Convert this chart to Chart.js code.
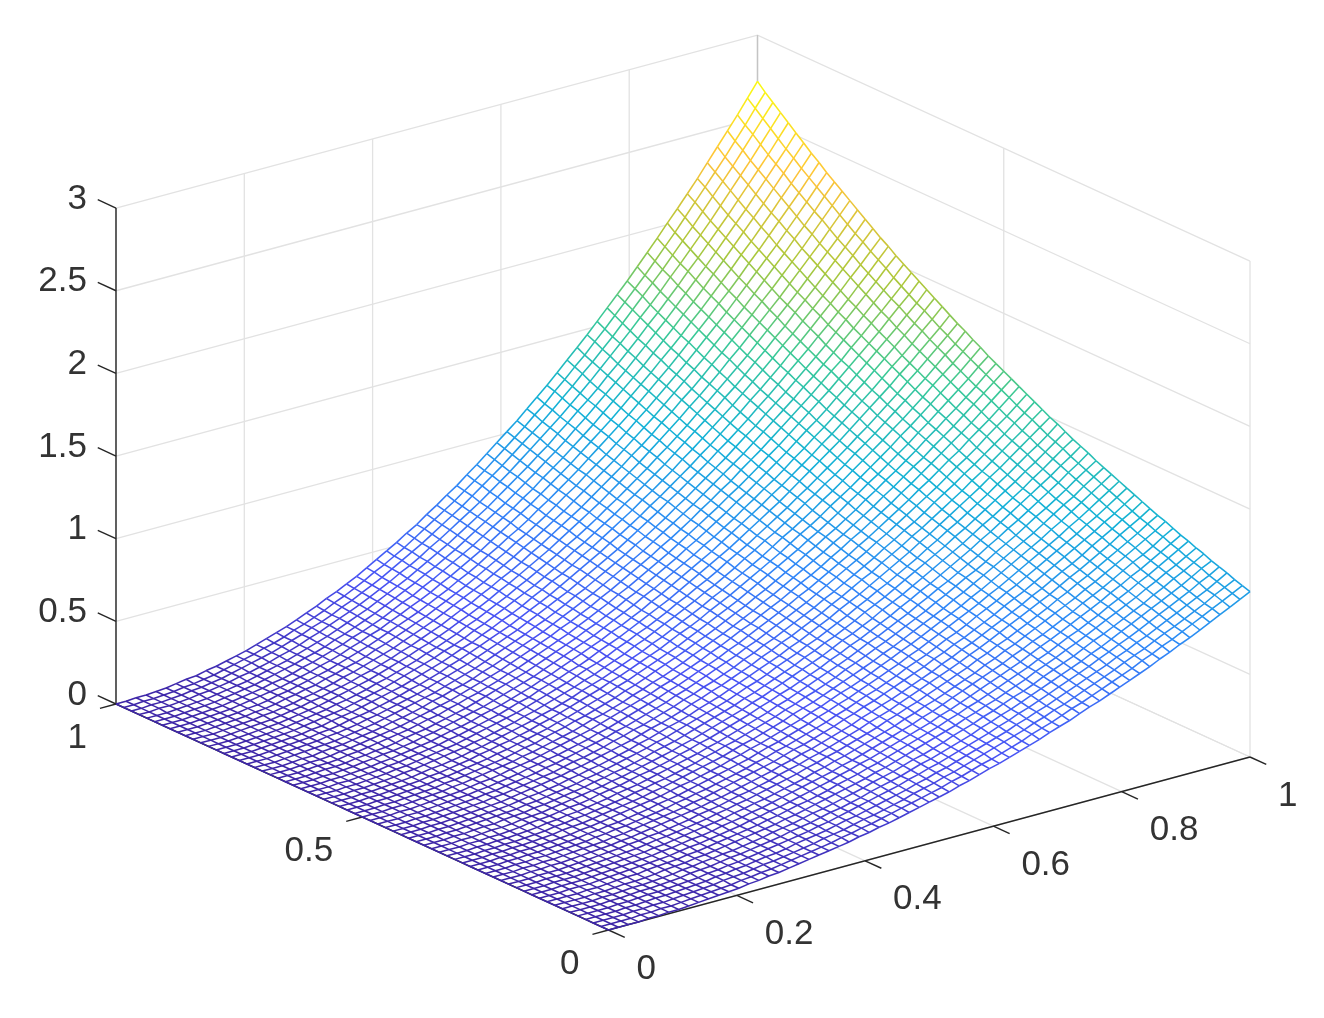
<!DOCTYPE html>
<html>
<head>
<meta charset="utf-8">
<title>Surface</title>
<script src="https://cdn.jsdelivr.net/npm/chart.js@4"></script>
<style>
html, body { margin: 0; padding: 0; background: #fff; }
canvas { display: block; filter: blur(0.45px); }
</style>
</head>
<body>
<canvas id="myChart" width="1324" height="1018"></canvas>
<script>
// ticks shown on each axis
const xTicks = [0, 0.2, 0.4, 0.6, 0.8, 1]
const yTicks = [0, 0.5, 1]
const zTicks = [0, 0.5, 1, 1.5, 2, 2.5, 3]

// surface height, in units of 0.005. row = x, column = y
const heightRows = [
[0,0,0,0,0,0,0,0,0,0,0,0,0,
0,0,0,0,0,0,0,0,0,0,0,0,0,
0,0,0,0,0,0,0,0,0,0,0,0,0,
0,0,0,0,0,0,0,0,0,0,0,0,0,
0,0,0,0,0,0,0,0,0,0,0,0,0],
[0,0,0,0,0,0,0,0,0,0,0,0,0,
0,0,0,0,0,0,0,0,0,0,0,0,0,
0,0,0,0,0,0,0,0,0,0,0,0,0,
0,0,0,0,0,0,0,0,0,0,0,0,0,
0,0,0,0,0,0,0,0,0,0,0,0,0],
[0,0,0,0,0,0,0,0,0,0,0,0,0,
0,0,0,0,0,0,0,0,0,0,0,0,0,
0,0,0,0,0,0,0,0,0,0,0,0,0,
0,0,0,0,0,0,0,0,0,0,0,0,0,
0,0,0,0,0,0,0,0,0,1,1,1,1],
[0,0,0,0,0,0,0,0,0,1,1,1,1,
1,1,1,1,1,1,1,1,1,1,1,1,1,
1,1,1,1,1,1,1,1,1,1,1,1,1,
1,1,1,1,1,1,1,1,1,1,1,1,1,
1,1,1,1,1,1,1,1,1,1,1,1,1],
[1,1,1,1,1,1,1,1,1,1,1,1,1,
1,1,1,1,1,1,1,1,1,1,1,1,1,
1,1,1,1,1,1,1,1,1,1,1,1,1,
1,1,1,2,2,2,2,2,2,2,2,2,2,
2,2,2,2,2,2,2,2,2,2,2,2,2],
[1,1,1,1,1,1,1,1,1,1,1,1,1,
1,2,2,2,2,2,2,2,2,2,2,2,2,
2,2,2,2,2,2,2,2,2,2,2,2,2,
2,2,2,2,2,2,2,3,3,3,3,3,3,
3,3,3,3,3,3,3,3,3,3,3,3,3],
[2,2,2,2,2,2,2,2,2,2,2,2,2,
2,2,2,2,2,2,2,2,2,2,3,3,3,
3,3,3,3,3,3,3,3,3,3,3,3,3,
3,3,3,3,3,3,4,4,4,4,4,4,4,
4,4,4,4,4,4,4,4,4,5,5,5,5],
[2,2,2,3,3,3,3,3,3,3,3,3,3,
3,3,3,3,3,3,3,3,3,3,3,3,4,
4,4,4,4,4,4,4,4,4,4,4,4,4,
4,4,5,5,5,5,5,5,5,5,5,5,5,
5,5,6,6,6,6,6,6,6,6,6,6,7],
[3,3,3,3,3,3,3,3,4,4,4,4,4,
4,4,4,4,4,4,4,4,4,4,4,5,5,
5,5,5,5,5,5,5,5,5,5,5,6,6,
6,6,6,6,6,6,6,6,7,7,7,7,7,
7,7,7,7,7,8,8,8,8,8,8,8,8],
[4,4,4,4,4,4,4,4,4,5,5,5,5,
5,5,5,5,5,5,5,5,5,6,6,6,6,
6,6,6,6,6,6,7,7,7,7,7,7,7,
7,7,8,8,8,8,8,8,8,8,8,9,9,
9,9,9,9,9,10,10,10,10,10,10,10,11],
[5,5,5,5,5,5,5,5,6,6,6,6,6,
6,6,6,6,6,6,7,7,7,7,7,7,7,
7,7,8,8,8,8,8,8,8,8,9,9,9,
9,9,9,9,10,10,10,10,10,10,11,11,11,
11,11,11,12,12,12,12,12,12,13,13,13,13],
[6,6,6,6,6,6,6,7,7,7,7,7,7,
7,7,7,8,8,8,8,8,8,8,8,9,9,
9,9,9,9,9,10,10,10,10,10,10,11,11,
11,11,11,11,12,12,12,12,12,13,13,13,13,
13,14,14,14,14,14,15,15,15,15,16,16,16],
[7,7,7,7,7,8,8,8,8,8,8,8,8,
9,9,9,9,9,9,9,10,10,10,10,10,10,
11,11,11,11,11,11,12,12,12,12,12,13,13,
13,13,13,14,14,14,14,14,15,15,15,15,16,
16,16,16,17,17,17,17,18,18,18,19,19,19],
[8,8,9,9,9,9,9,9,9,9,10,10,10,
10,10,10,11,11,11,11,11,11,12,12,12,12,
12,13,13,13,13,13,14,14,14,14,14,15,15,
15,15,16,16,16,16,17,17,17,17,18,18,18,
19,19,19,19,20,20,20,21,21,21,22,22,22],
[10,10,10,10,10,10,11,11,11,11,11,11,12,
12,12,12,12,12,13,13,13,13,13,14,14,14,
14,15,15,15,15,16,16,16,16,17,17,17,17,
18,18,18,18,19,19,19,20,20,20,21,21,21,
22,22,22,23,23,23,24,24,24,25,25,26,26],
[11,11,11,12,12,12,12,12,12,13,13,13,13,
13,14,14,14,14,15,15,15,15,15,16,16,16,
16,17,17,17,18,18,18,18,19,19,19,20,20,
20,21,21,21,22,22,22,23,23,23,24,24,24,
25,25,26,26,26,27,27,28,28,28,29,29,30],
[13,13,13,13,13,14,14,14,14,14,15,15,15,
15,16,16,16,16,17,17,17,17,18,18,18,18,
19,19,19,20,20,20,21,21,21,22,22,22,23,
23,23,24,24,24,25,25,26,26,26,27,27,28,
28,29,29,30,30,30,31,31,32,32,33,33,34],
[14,14,15,15,15,15,15,16,16,16,16,17,17,
17,18,18,18,18,19,19,19,20,20,20,21,21,
21,22,22,22,23,23,23,24,24,24,25,25,26,
26,26,27,27,28,28,29,29,29,30,30,31,31,
32,32,33,33,34,34,35,35,36,37,37,38,38],
[16,16,16,17,17,17,17,18,18,18,18,19,19,
19,20,20,20,21,21,21,22,22,22,23,23,23,
24,24,25,25,25,26,26,26,27,27,28,28,29,
29,30,30,30,31,31,32,32,33,33,34,35,35,
36,36,37,37,38,39,39,40,40,41,42,42,43],
[18,18,18,18,19,19,19,20,20,20,21,21,21,
22,22,22,23,23,23,24,24,24,25,25,26,26,
26,27,27,28,28,29,29,30,30,30,31,31,32,
32,33,33,34,35,35,36,36,37,37,38,39,39,
40,40,41,42,42,43,44,44,45,46,46,47,48],
[20,20,20,20,21,21,21,22,22,22,23,23,24,
24,24,25,25,25,26,26,27,27,28,28,28,29,
29,30,30,31,31,32,32,33,33,34,34,35,35,
36,36,37,38,38,39,39,40,41,41,42,43,43,
44,45,45,46,47,48,48,49,50,51,51,52,53],
[22,22,22,23,23,23,24,24,24,25,25,26,26,
26,27,27,28,28,29,29,29,30,30,31,31,32,
32,33,33,34,34,35,35,36,37,37,38,38,39,
40,40,41,42,42,43,43,44,45,46,46,47,48,
49,49,50,51,52,52,53,54,55,56,57,58,59],
[24,24,24,25,25,26,26,26,27,27,28,28,29,
29,29,30,30,31,31,32,32,33,33,34,34,35,
35,36,37,37,38,38,39,40,40,41,41,42,43,
43,44,45,46,46,47,48,48,49,50,51,52,52,
53,54,55,56,57,58,58,59,60,61,62,63,64],
[26,26,27,27,27,28,28,29,29,30,30,31,31,
32,32,33,33,34,34,35,35,36,36,37,38,38,
39,39,40,41,41,42,43,43,44,45,45,46,47,
48,48,49,50,51,51,52,53,54,55,56,56,57,
58,59,60,61,62,63,64,65,66,67,68,69,70],
[28,29,29,29,30,30,31,31,32,32,33,33,34,
34,35,36,36,37,37,38,38,39,40,40,41,42,
42,43,44,44,45,46,46,47,48,49,49,50,51,
52,53,53,54,55,56,57,58,59,60,60,61,62,
63,64,65,66,67,69,70,71,72,73,74,75,76],
[31,31,31,32,32,33,34,34,35,35,36,36,37,
37,38,39,39,40,40,41,42,42,43,44,44,45,
46,47,47,48,49,50,50,51,52,53,54,54,55,
56,57,58,59,60,61,62,63,64,65,66,67,68,
69,70,71,72,73,74,75,77,78,79,80,82,83],
[33,34,34,35,35,36,36,37,37,38,39,39,40,
40,41,42,42,43,44,44,45,46,47,47,48,49,
50,50,51,52,53,54,54,55,56,57,58,59,60,
61,62,63,64,65,66,67,68,69,70,71,72,73,
74,76,77,78,79,80,82,83,84,86,87,88,90],
[36,36,37,37,38,38,39,40,40,41,42,42,43,
44,44,45,46,46,47,48,49,49,50,51,52,53,
53,54,55,56,57,58,59,60,61,62,62,63,65,
65,67,68,69,70,71,72,73,74,75,77,78,79,
80,81,83,84,85,87,88,90,91,92,94,95,97],
[38,39,39,40,41,41,42,43,43,44,45,45,46,
47,48,48,49,50,51,52,52,53,54,55,56,57,
57,58,59,60,61,62,63,64,65,66,67,68,69,
70,72,73,74,75,76,77,79,80,81,82,84,85,
86,88,89,90,92,93,95,96,98,99,101,102,104],
[41,42,42,43,44,44,45,46,47,47,48,49,50,
50,51,52,53,54,54,55,56,57,58,59,60,61,
62,63,64,65,66,67,68,69,70,71,72,73,74,
76,77,78,79,80,82,83,84,86,87,88,90,91,
93,94,95,97,98,100,102,103,105,107,108,110,112],
[44,45,45,46,47,48,48,49,50,51,51,52,53,
54,55,56,56,57,58,59,60,61,62,63,64,65,
66,67,68,69,70,71,72,74,75,76,77,78,80,
81,82,83,85,86,87,89,90,92,93,95,96,98,
99,101,102,104,105,107,109,110,112,114,116,118,119],
[47,48,48,49,50,51,52,52,53,54,55,56,57,
57,58,59,60,61,62,63,64,65,66,67,68,69,
70,72,73,74,75,76,77,79,80,81,82,84,85,
86,88,89,90,92,93,95,96,98,99,101,102,104,
106,107,109,111,113,114,116,118,120,122,124,126,128],
[50,51,52,52,53,54,55,56,57,58,58,59,60,
61,62,63,64,65,66,67,68,69,71,72,73,74,
75,76,77,79,80,81,82,84,85,86,88,89,91,
92,93,95,96,98,99,101,103,104,106,108,109,111,
113,114,116,118,120,122,124,126,128,130,132,134,136],
[53,54,55,56,57,57,58,59,60,61,62,63,64,
65,66,67,68,69,70,72,73,74,75,76,77,79,
80,81,82,84,85,86,88,89,90,92,93,95,96,
98,99,101,102,104,106,107,109,111,113,114,116,118,
120,122,124,126,128,130,132,134,136,138,140,142,145],
[56,57,58,59,60,61,62,63,64,65,66,67,68,
69,70,71,72,74,75,76,77,78,80,81,82,83,
85,86,87,89,90,92,93,95,96,98,99,101,102,
104,105,107,109,111,112,114,116,118,120,121,123,125,
127,129,131,133,135,138,140,142,144,146,149,151,153],
[60,61,62,63,64,65,66,67,68,69,70,71,72,
73,74,76,77,78,79,80,82,83,84,86,87,88,
90,91,93,94,96,97,99,100,102,103,105,107,108,
110,112,114,115,117,119,121,123,125,127,129,131,133,
135,137,139,141,143,146,148,150,153,155,158,160,163],
[63,64,65,66,67,68,69,71,72,73,74,75,76,
78,79,80,81,83,84,85,86,88,89,91,92,94,
95,97,98,100,101,103,104,106,108,109,111,113,115,
116,118,120,122,124,126,128,130,132,134,136,138,140,
143,145,147,149,152,154,157,159,162,164,167,169,172],
[67,68,69,70,71,72,73,75,76,77,78,79,81,
82,83,85,86,87,89,90,91,93,94,96,97,99,
100,102,104,105,107,109,110,112,114,116,117,119,121,
123,125,127,129,131,133,135,137,139,142,144,146,148,
151,153,155,158,160,163,165,168,171,173,176,179,182],
[71,72,73,74,75,76,77,79,80,81,82,84,85,
86,88,89,91,92,93,95,96,98,99,101,103,104,
106,108,109,111,113,114,116,118,120,122,124,126,128,
130,132,134,136,138,140,142,145,147,149,152,154,156,
159,161,164,167,169,172,175,177,180,183,186,189,192],
[74,75,77,78,79,80,82,83,84,85,87,88,90,
91,92,94,95,97,98,100,102,103,105,106,108,110,
111,113,115,117,119,121,122,124,126,128,130,132,134,
137,139,141,143,145,148,150,152,155,157,160,162,165,
167,170,173,175,178,181,184,187,190,193,196,199,202],
[78,79,81,82,83,84,86,87,89,90,91,93,94,
96,97,99,100,102,103,105,107,108,110,112,114,115,
117,119,121,123,125,127,129,131,133,135,137,139,141,
144,146,148,151,153,155,158,160,163,165,168,171,173,
176,179,182,185,187,190,193,196,199,203,206,209,212],
[82,83,85,86,87,89,90,92,93,94,96,97,99,
101,102,104,105,107,109,110,112,114,116,118,119,121,
123,125,127,129,131,133,135,137,140,142,144,146,149,
151,153,156,158,161,163,166,168,171,174,177,179,182,
185,188,191,194,197,200,203,206,210,213,216,220,223],
[86,87,89,90,92,93,95,96,98,99,101,102,104,
106,107,109,111,112,114,116,118,120,121,123,125,127,
129,131,133,135,138,140,142,144,147,149,151,154,156,
158,161,163,166,169,171,174,177,180,182,185,188,191,
194,197,200,203,207,210,213,217,220,223,227,230,234],
[90,92,93,95,96,98,99,101,102,104,106,107,109,
111,112,114,116,118,120,121,123,125,127,129,131,133,
136,138,140,142,144,147,149,151,154,156,158,161,163,
166,169,171,174,177,180,182,185,188,191,194,197,200,
203,207,210,213,217,220,223,227,231,234,238,242,245],
[95,96,98,99,101,102,104,105,107,109,111,112,114,
116,118,120,121,123,125,127,129,131,133,135,138,140,
142,144,146,149,151,153,156,158,161,163,166,169,171,
174,177,179,182,185,188,191,194,197,200,203,206,210,
213,216,220,223,227,230,234,238,241,245,249,253,257],
[99,100,102,104,105,107,109,110,112,114,116,117,119,
121,123,125,127,129,131,133,135,137,139,142,144,146,
148,151,153,156,158,160,163,166,168,171,174,176,179,
182,185,188,191,194,197,200,203,206,209,213,216,219,
223,226,230,234,237,241,245,249,252,256,261,265,269],
[103,105,107,108,110,112,113,115,117,119,121,123,125,
127,129,131,133,135,137,139,141,143,146,148,150,153,
155,158,160,163,165,168,170,173,176,179,181,184,187,
190,193,196,199,202,205,209,212,215,219,222,226,229,
233,237,240,244,248,252,256,260,264,268,272,276,281],
[108,110,111,113,115,117,118,120,122,124,126,128,130,
132,134,136,138,141,143,145,147,150,152,154,157,159,
162,164,167,170,172,175,178,181,183,186,189,192,195,
198,202,205,208,211,215,218,221,225,228,232,236,239,
243,247,251,255,259,263,267,271,275,280,284,289,293],
[113,114,116,118,120,122,124,126,127,129,132,134,136,
138,140,142,144,147,149,151,154,156,159,161,164,166,
169,172,174,177,180,183,185,188,191,194,197,201,204,
207,210,213,217,220,224,227,231,234,238,242,246,250,
254,258,262,266,270,274,278,283,287,292,296,301,306],
[117,119,121,123,125,127,129,131,133,135,137,139,141,
144,146,148,151,153,155,158,160,163,165,168,171,173,
176,179,182,185,187,190,193,196,199,203,206,209,212,
216,219,222,226,230,233,237,241,244,248,252,256,260,
264,268,273,277,281,286,290,295,299,304,309,314,319],
[122,124,126,128,130,132,134,136,138,141,143,145,147,
150,152,154,157,159,162,164,167,169,172,175,178,180,
183,186,189,192,195,198,201,204,208,211,214,218,221,
225,228,232,235,239,243,247,250,254,258,262,267,271,
275,279,284,288,293,297,302,307,312,317,322,327,332],
[127,129,131,133,135,137,139,142,144,146,148,151,153,
156,158,161,163,166,168,171,174,176,179,182,185,188,
191,194,197,200,203,206,209,213,216,219,223,226,230,
234,237,241,245,249,253,257,261,265,269,273,277,282,
286,291,295,300,305,309,314,319,324,329,335,340,345],
[132,134,136,138,141,143,145,147,150,152,154,157,159,
162,164,167,170,172,175,178,180,183,186,189,192,195,
198,201,204,208,211,214,218,221,225,228,232,235,239,
243,247,251,255,259,263,267,271,275,279,284,288,293,
298,302,307,312,317,322,327,332,337,342,348,353,359],
[137,139,142,144,146,148,151,153,155,158,160,163,165,
168,171,173,176,179,182,185,187,190,193,196,200,203,
206,209,212,216,219,223,226,230,233,237,241,245,248,
252,256,260,264,269,273,277,281,286,290,295,300,304,
309,314,319,324,329,334,339,345,350,356,361,367,373],
[142,145,147,149,152,154,156,159,161,164,166,169,172,
174,177,180,183,186,189,192,195,198,201,204,207,210,
214,217,221,224,228,231,235,238,242,246,250,254,258,
262,266,270,274,279,283,288,292,297,301,306,311,316,
321,326,331,336,342,347,352,358,364,369,375,381,387],
[148,150,152,155,157,160,162,165,167,170,173,175,178,
181,184,187,190,193,196,199,202,205,208,212,215,218,
222,225,229,232,236,240,244,247,251,255,259,263,267,
272,276,280,285,289,294,298,303,308,313,318,323,328,
333,338,343,349,354,360,366,371,377,383,389,395,402],
[153,156,158,160,163,166,168,171,174,176,179,182,185,
188,191,194,197,200,203,206,209,213,216,219,223,226,
230,233,237,241,245,249,252,256,260,265,269,273,277,
282,286,291,295,300,305,309,314,319,324,329,334,340,
345,351,356,362,367,373,379,385,391,397,403,410,416],
[159,161,164,166,169,172,174,177,180,183,185,188,191,
194,197,201,204,207,210,213,217,220,224,227,231,234,
238,242,246,250,254,258,262,266,270,274,278,283,287,
292,296,301,306,311,315,320,325,331,336,341,347,352,
357,363,369,375,381,387,393,399,405,411,418,425,431],
[164,167,169,172,175,178,180,183,186,189,192,195,198,
201,204,208,211,214,218,221,225,228,232,235,239,243,
247,250,254,258,262,267,271,275,279,284,288,293,297,
302,307,312,317,322,327,332,337,342,348,353,359,364,
370,376,382,388,394,400,407,413,419,426,433,440,446],
[170,173,175,178,181,184,187,190,193,196,199,202,205,
208,212,215,218,222,225,229,232,236,240,243,247,251,
255,259,263,267,272,276,280,285,289,294,298,303,308,
313,318,323,328,333,338,343,349,354,360,365,371,377,
383,389,395,401,408,414,421,427,434,441,448,455,462],
[176,179,181,184,187,190,193,196,199,202,206,209,212,
215,219,222,226,229,233,237,240,244,248,252,256,260,
264,268,272,277,281,285,290,294,299,304,309,313,318,
323,328,334,339,344,350,355,361,366,372,378,384,390,
396,402,409,415,422,428,435,442,449,456,463,470,478],
[182,185,187,190,193,196,200,203,206,209,212,216,219,
223,226,230,233,237,241,244,248,252,256,260,264,269,
273,277,281,286,290,295,300,304,309,314,319,324,329,
334,339,345,350,356,361,367,373,379,385,391,397,403,
409,416,422,429,436,443,450,457,464,471,479,486,494],
[188,191,194,196,200,203,206,209,213,216,219,223,226,
230,234,237,241,245,249,253,257,261,265,269,273,277,
282,286,291,295,300,305,310,314,319,324,329,335,340,
345,351,356,362,368,373,379,385,391,397,404,410,416,
423,430,436,443,450,457,465,472,479,487,495,502,510],
[194,197,200,203,206,210,213,216,220,223,227,230,234,
237,241,245,249,253,257,261,265,269,273,278,282,286,
291,296,300,305,310,315,320,325,330,335,340,345,351,
356,362,368,373,379,385,391,398,404,410,417,423,430,
437,444,451,458,465,472,480,487,495,503,511,519,527],
[200,203,206,210,213,216,220,223,227,230,234,238,241,
245,249,253,257,261,265,269,273,278,282,286,291,296,
300,305,310,315,320,325,330,335,340,346,351,357,362,
368,374,380,386,392,398,404,410,417,423,430,437,444,
451,458,465,472,480,487,495,503,511,519,527,535,544]
]
const heightUnit = 0.005

// parula colormap
const parula = [
  [62,38,168],[72,82,244],[46,135,247],[18,177,214],
  [55,200,151],[171,199,57],[254,195,56],[249,251,14]
]

// view of the 3d box on the page
const origin = { x: 608.5, y: 930 }
const xVec = { x: 641.5, y: -173 }
const yVec = { x: -492.5, y: -226 }
const zPerUnit = 165.3

const project = (x, y, z) => ({
  x: origin.x + x * xVec.x + y * yVec.x,
  y: origin.y + x * xVec.y + y * yVec.y - z * zPerUnit
})

const zMax = Math.max(...heightRows.flat()) * heightUnit

function colorFor(z) {
  const t = Math.min(0.9999, z / zMax) * (parula.length - 1)
  const k = Math.floor(t)
  const f = t - k
  const c = parula[k].map((v, n) => Math.round(v + (parula[k + 1][n] - v) * f))
  return 'rgb(' + c.join(',') + ')'
}

const datasets = []

function addLine(points, color, width, order) {
  datasets.push({
    data: points,
    borderColor: color,
    borderWidth: width,
    pointRadius: 0,
    order: order
  })
}

const gridColor = '#e2e2e2'
const axisColor = '#262626'
const zTop = zTicks[zTicks.length - 1]

// back walls and floor
zTicks.forEach(z => {
  addLine([project(0, 1, z), project(1, 1, z), project(1, 0, z)], gridColor, 1.3, 5)
})
xTicks.forEach(x => {
  addLine([project(x, 0, 0), project(x, 1, 0), project(x, 1, zTop)], gridColor, 1.3, 5)
})
yTicks.forEach(y => {
  addLine([project(0, y, 0), project(1, y, 0), project(1, y, zTop)], gridColor, 1.3, 5)
})

// white sheet so the walls do not show through the mesh
const rows = heightRows.length
const cols = heightRows[0].length
const gx = i => i / (rows - 1)
const gy = j => j / (cols - 1)
const node = (i, j) => {
  const z = heightRows[i][j] * heightUnit
  return Object.assign(project(gx(i), gy(j), z), { h: z })
}
addLine([node(rows - 1, cols - 1), project(1, 1, zTop)], '#c4c4c4', 1.3, 4)

const outline = []
for (let j = 0; j < cols; j++) outline.push(node(0, j))
for (let i = 1; i < rows; i++) outline.push(node(i, cols - 1))
for (let j = cols - 2; j >= 0; j--) outline.push(node(rows - 1, j))
for (let i = rows - 2; i >= 0; i--) outline.push(node(i, 0))
datasets.push({
  data: outline,
  borderWidth: 0,
  borderColor: 'rgba(0,0,0,0)',
  backgroundColor: '#fff',
  fill: 'shape',
  pointRadius: 0,
  order: 3
})

// axes and tick marks, under the mesh
addLine([project(0, 1, zTop), project(0, 1, 0), project(0, 0, 0), project(1, 0, 0)], axisColor, 1.4, 2)
xTicks.forEach(x => addLine([project(x, 0, 0), project(x, -0.033, 0)], axisColor, 1.4, 2))
yTicks.forEach(y => addLine([project(0, y, 0), project(-0.025, y, 0)], axisColor, 1.4, 2))
zTicks.forEach(z => addLine([project(0, 1, z), project(0, 1.037, z)], axisColor, 1.4, 2))

// the mesh, one line per row and per column
const meshSegment = {
  borderColor: ctx => {
    const d = ctx.chart.data.datasets[ctx.datasetIndex].data
    return colorFor((d[ctx.p0DataIndex].h + d[ctx.p1DataIndex].h) / 2)
  }
}
for (let i = 0; i < rows; i++) {
  const pts = []
  for (let j = 0; j < cols; j++) pts.push(node(i, j))
  addLine(pts, '#3e26a8', 1.55, 1)
  datasets[datasets.length - 1].segment = meshSegment
}
for (let j = 0; j < cols; j++) {
  const pts = []
  for (let i = 0; i < rows; i++) pts.push(node(i, j))
  addLine(pts, '#3e26a8', 1.55, 1)
  datasets[datasets.length - 1].segment = meshSegment
}

// tick labels sit next to the projected ticks
const tickLabels = {
  id: 'tickLabels',
  afterDraw(chart) {
    const { ctx, scales } = chart
    const put = (value, p, dx, dy, align) => {
      ctx.textAlign = align
      ctx.fillText(String(value), scales.x.getPixelForValue(p.x) + dx, scales.y.getPixelForValue(p.y) + dy)
    }
    ctx.save()
    ctx.font = '35px "Liberation Sans"'
    ctx.fillStyle = '#333333'
    ctx.textBaseline = 'middle'
    xTicks.forEach(x => put(x, project(x, 0, 0), 28, 39, 'left'))
    yTicks.forEach(y => put(y, project(0, y, 0), -29, 34, 'right'))
    zTicks.forEach(z => put(z, project(0, 1, z), -29, -9, 'right'))
    ctx.restore()
  }
}

new Chart(document.getElementById('myChart'), {
  type: 'line',
  data: { datasets: datasets },
  plugins: [tickLabels],
  options: {
    responsive: false,
    animation: false,
    events: [],
    layout: { padding: 0 },
    plugins: {
      legend: { display: false },
      tooltip: { enabled: false }
    },
    scales: {
      x: { type: 'linear', min: 0, max: 1324, display: false },
      y: { type: 'linear', min: 0, max: 1018, reverse: true, display: false }
    }
  }
})
</script>
</body>
</html>
